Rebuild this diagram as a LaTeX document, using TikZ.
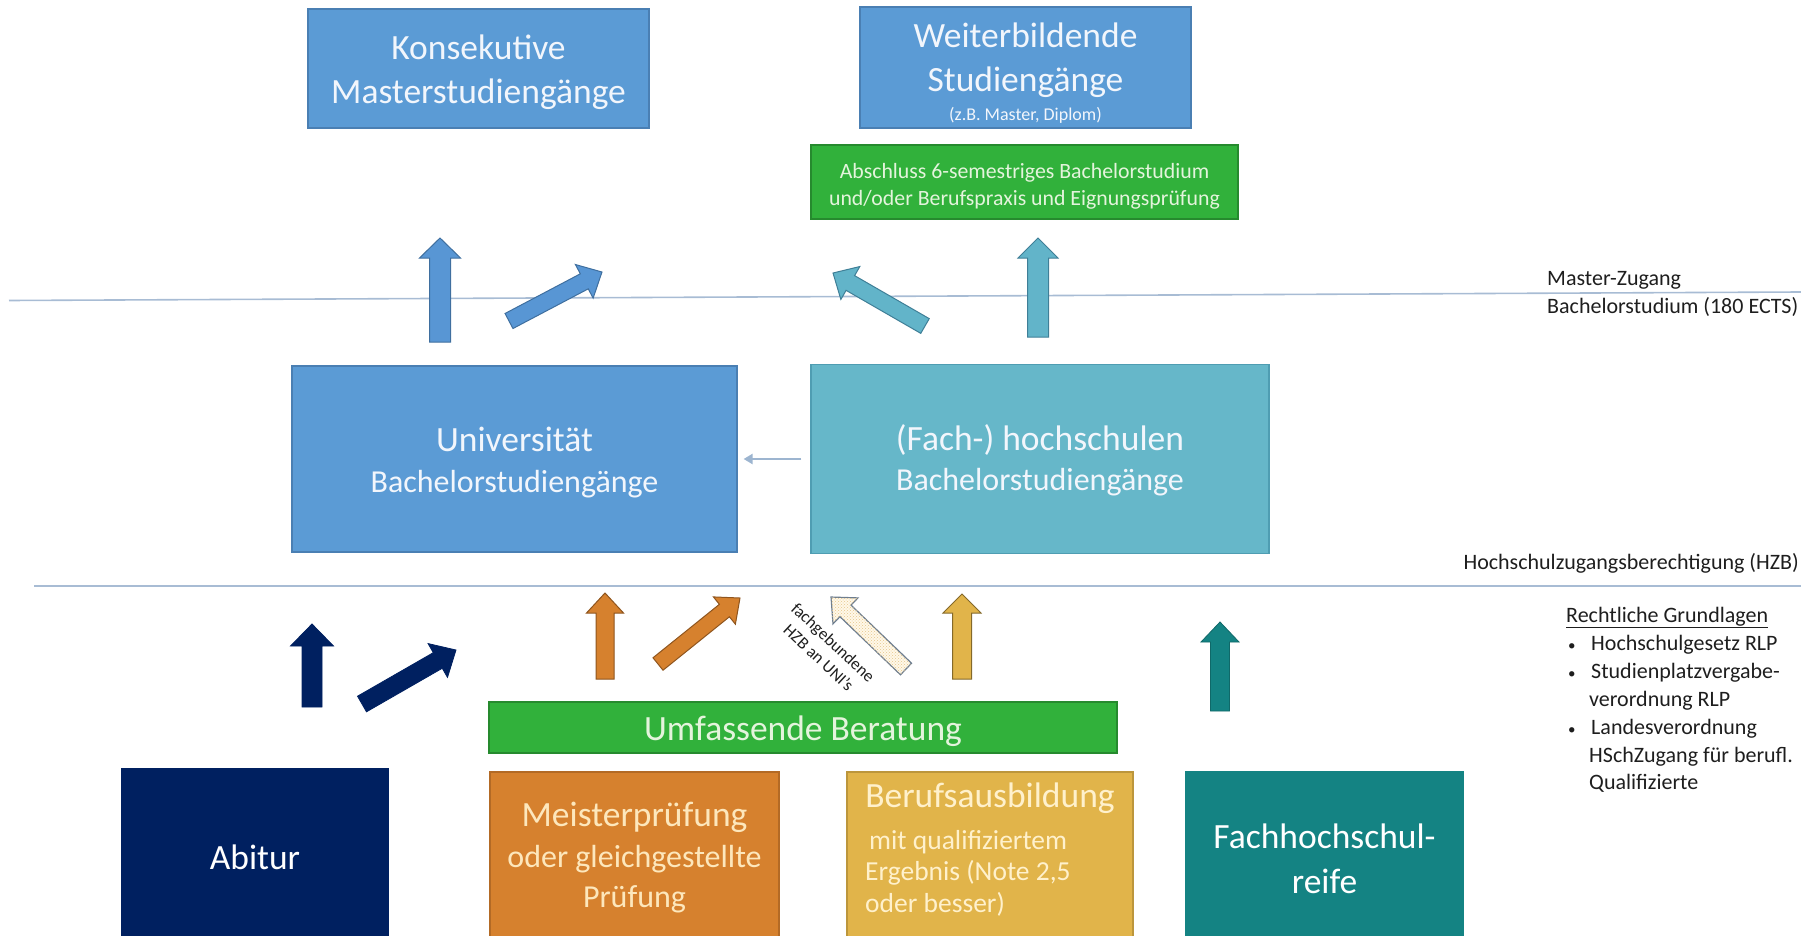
\documentclass[tikz,border=0pt]{standalone}
\usepackage{fontspec}
\setmainfont{Carlito}
\usetikzlibrary{arrows.meta,patterns}
\definecolor{blueBox}{HTML}{5B9BD5}
\definecolor{blueEdge}{HTML}{4A7FB3}
\definecolor{fachBox}{HTML}{66B7C9}
\definecolor{fachEdge}{HTML}{4F9DB2}
\definecolor{greenBox}{HTML}{31B13B}
\definecolor{greenEdge}{HTML}{268A2E}
\definecolor{navy}{HTML}{002060}
\definecolor{orangeBox}{HTML}{D6812E}
\definecolor{orangeEdge}{HTML}{B36A25}
\definecolor{goldBox}{HTML}{E1B44A}
\definecolor{goldEdge}{HTML}{BC963C}
\definecolor{tealBox}{HTML}{148383}
\definecolor{arrowBlue}{HTML}{5896D4}
\definecolor{arrowBlueEdge}{HTML}{3F6F9F}
\definecolor{arrowTeal}{HTML}{62B4C9}
\definecolor{arrowTealEdge}{HTML}{3F7F97}
\definecolor{sepLine}{HTML}{A8BCD4}
\definecolor{boxText}{HTML}{F2F6FC}
\definecolor{paleYellow}{HTML}{FDE7BC}
\definecolor{paleGold}{HTML}{FFF1CC}
\definecolor{paleGreen}{HTML}{E4F4DC}
\definecolor{hatchFill}{HTML}{FFF8E8}
\definecolor{hatchDots}{HTML}{E6C68C}
\definecolor{hatchEdge}{HTML}{6D7D8F}
\definecolor{smallArrow}{HTML}{9DB5D0}
\definecolor{darkText}{HTML}{1E1E1E}

% #1 style, #2 tail x, #3 tail y, #4 tip x, #5 tip y, #6 shaft width, #7 head width, #8 head length
\newcommand\blockarrow[8]{%
 \pgfmathsetmacro\baang{atan2((#3)-(#5),(#4)-(#2))}%
 \pgfmathsetmacro\balen{veclen((#4)-(#2),(#5)-(#3))}%
 \begin{scope}[shift={(#2,#3)},rotate=\baang]
  \draw[#1] (0,{(#6)/2}) -- ({\balen-(#8)},{(#6)/2}) -- ({\balen-(#8)},{(#7)/2}) -- (\balen,0)
   -- ({\balen-(#8)},{-(#7)/2}) -- ({\balen-(#8)},{-(#6)/2}) -- (0,{-(#6)/2}) -- cycle;
 \end{scope}}

\begin{document}
\begin{tikzpicture}[x=1pt,y=-1pt,
  box/.style={rectangle, inner sep=0pt, line width=1.2pt},
  lbl/.style={anchor=base, inner sep=0pt},
  lblw/.style={anchor=base west, inner sep=0pt},
  big/.style={font=\fontsize{35.5}{41}\selectfont},
  mid/.style={font=\fontsize{32}{38}\selectfont},
  sub/.style={font=\fontsize{27.5}{31}\selectfont},
  note/.style={font=\fontsize{22}{27.5}\selectfont, text=darkText},
  bul/.style={font=\fontsize{15}{20}\selectfont, text=darkText},
  sepline/.style={draw=sepLine, line width=1.6pt},
  upblue/.style={fill=arrowBlue, draw=arrowBlueEdge, line width=1pt},
  upteal/.style={fill=arrowTeal, draw=arrowTealEdge, line width=1pt},
  navyarrow/.style={fill=navy, draw=navy, line width=0.8pt},
  orangearrow/.style={fill=orangeBox, draw=orangeEdge!80!black, line width=1pt},
  goldarrow/.style={fill=goldBox, draw=goldEdge!70!black, line width=1pt},
  tealarrow/.style={fill=tealBox, draw=tealBox!80!black, line width=0.8pt},
  hatcharrow/.style={fill=hatchFill, draw=hatchEdge, line width=1.2pt,
     postaction={pattern=crosshatch dots, pattern color=hatchDots}},
]
\useasboundingbox (0,0) rectangle (1801,936);

% separator lines
\draw[sepline] (9,300.5) -- (1801,292);
\draw[sepline] (34,586) -- (1801,586);

% top boxes
\node[box, fill=blueBox, draw=blueEdge, minimum width=341pt, minimum height=119pt] (kons) at (478.5,68.5) {};
\node[lbl, big, text=boxText] (konsA) at (478.5,60) {Konsekutive};
\node[lbl, big, text=boxText] (konsB) at (478.5,104) {Masterstudiengänge};

\node[box, fill=blueBox, draw=blueEdge, minimum width=331pt, minimum height=121pt] (weiter) at (1025.5,67.5) {};
\node[lbl, big, text=boxText] (weiterA) at (1025.5,48) {Weiterbildende};
\node[lbl, big, text=boxText] (weiterB) at (1025.5,92) {Studiengänge};
\node[lbl, text=boxText, font=\fontsize{18}{20}\selectfont] (weiterC) at (1025.5,121) {(z.B. Master, Diplom)};

\node[box, fill=greenBox, draw=greenEdge, minimum width=427pt, minimum height=74pt] (absch) at (1024.5,182) {};
\node[lbl, text=paleGreen, font=\fontsize{21.8}{24}\selectfont] (abschA) at (1024.5,179) {Abschluss 6-semestriges Bachelorstudium};
\node[lbl, text=paleGreen, font=\fontsize{21.8}{24}\selectfont] (abschB) at (1024.5,206) {und/oder Berufspraxis und Eignungsprüfung};

% right-hand labels
\node[lblw, note] (mz) at (1547,285) {Master-Zugang};
\node[lblw, note] (bs) at (1547,313) {Bachelorstudium (180 ECTS)};
\node[anchor=base east, inner sep=0pt, note] (hzb) at (1799,569) {Hochschulzugangsberechtigung (HZB)};

% middle boxes
\node[box, fill=blueBox, draw=blueEdge, minimum width=445pt, minimum height=186pt] (uni) at (514.5,459) {};
\node[lbl, big, text=boxText] (uniA) at (514.5,451) {Universität};
\node[lbl, mid, text=boxText] (uniB) at (514.5,492) {Bachelorstudiengänge};

\node[box, fill=fachBox, draw=fachEdge, minimum width=458pt, minimum height=189pt] (fach) at (1040,459) {};
\node[lbl, big, text=boxText] (fachA) at (1040,450) {(Fach-) hochschulen};
\node[lbl, mid, text=boxText] (fachB) at (1040,490) {Bachelorstudiengänge};

\draw[smallArrow, line width=2.2pt, -{Triangle[length=9pt,width=10pt]}, shorten <=9pt, shorten >=6pt] (fach.west) -- (uni.east);

% upper block arrows
\blockarrow{upblue}{440}{342}{440}{238}{21}{41}{20}
\blockarrow{upblue}{509}{321}{602}{272}{17}{38}{20}
\blockarrow{upteal}{925}{326}{833}{273}{17}{38}{20}
\blockarrow{upteal}{1038}{337}{1038}{238}{21}{40}{20}

% lower block arrows
\blockarrow{navyarrow}{312}{707}{312}{624}{20}{43}{22}
\blockarrow{navyarrow}{362}{704}{456}{650}{18}{39}{21}
\blockarrow{orangearrow}{605}{679}{605}{593}{18}{37}{20}
\blockarrow{orangearrow}{658}{664}{740}{598}{16}{35}{20}
\blockarrow{hatcharrow}{906}{669}{831}{597}{16}{36}{20}
\blockarrow{goldarrow}{962}{679}{962}{594}{19}{38}{19}
\blockarrow{tealarrow}{1220}{711}{1220}{622}{19}{38}{20}

\node[rotate=-43, align=center, inner sep=0pt, text=darkText, font=\fontsize{17}{21}\selectfont] (fhzb) at (826,650) {fachgebundene\\HZB an UNI's};

% Beratung
\node[box, fill=greenBox, draw=greenEdge, minimum width=628pt, minimum height=51pt] (ber) at (803,727.5) {};
\node[lbl, big, text=paleGreen] (berT) at (803,740) {Umfassende Beratung};

% bottom boxes
\node[box, fill=navy, draw=navy, minimum width=266pt, minimum height=171pt] (abi) at (255,854.5) {};
\node[lbl, big, text=white] (abiT) at (255,869) {Abitur};

\node[box, fill=orangeBox, draw=orangeEdge, minimum width=289pt, minimum height=168pt] (meist) at (634.5,856) {};
\node[lbl, big, text=paleYellow] (meistA) at (634.5,826) {Meisterprüfung};
\node[lbl, mid, text=paleYellow] (meistB) at (634.5,867) {oder gleichgestellte};
\node[lbl, mid, text=paleYellow] (meistC) at (634.5,907) {Prüfung};

\node[box, fill=goldBox, draw=goldEdge, minimum width=286pt, minimum height=168pt] (beruf) at (990,856) {};
\node[lbl, big, text=paleGold] (berufA) at (990,807) {Berufsausbildung};
\node[lblw, sub, text=paleGold] (berufB) at (869,849) {mit qualifiziertem};
\node[lblw, sub, text=paleGold] (berufC) at (865,880) {Ergebnis (Note 2,5};
\node[lblw, sub, text=paleGold] (berufD) at (865,912) {oder besser)};

\node[box, fill=tealBox, draw=tealBox, minimum width=277pt, minimum height=168pt] (fhr) at (1324.5,856) {};
\node[lbl, big, text=white] (fhrA) at (1324.5,848) {Fachhochschul-};
\node[lbl, big, text=white] (fhrB) at (1324.5,893) {reife};

% legal basis
\node[lblw, note] (rgT) at (1566,622.5) {\underline{Rechtliche Grundlagen}};
\node[lblw, bul] (rg1b) at (1568,650.5) {\textbullet};
\node[lblw, note] (rg1) at (1591,650.5) {Hochschulgesetz RLP};
\node[lblw, bul] (rg2b) at (1568,678.5) {\textbullet};
\node[lblw, note] (rg2) at (1591,678.5) {Studienplatzvergabe-};
\node[lblw, note] (rg2c) at (1589,706) {verordnung RLP};
\node[lblw, bul] (rg3b) at (1568,734) {\textbullet};
\node[lblw, note] (rg3) at (1591,734) {Landesverordnung};
\node[lblw, note] (rg3c) at (1589,762) {HSchZugang für berufl.};
\node[lblw, note] (rg3d) at (1589,789.5) {Qualifizierte};
\end{tikzpicture}
\end{document}
